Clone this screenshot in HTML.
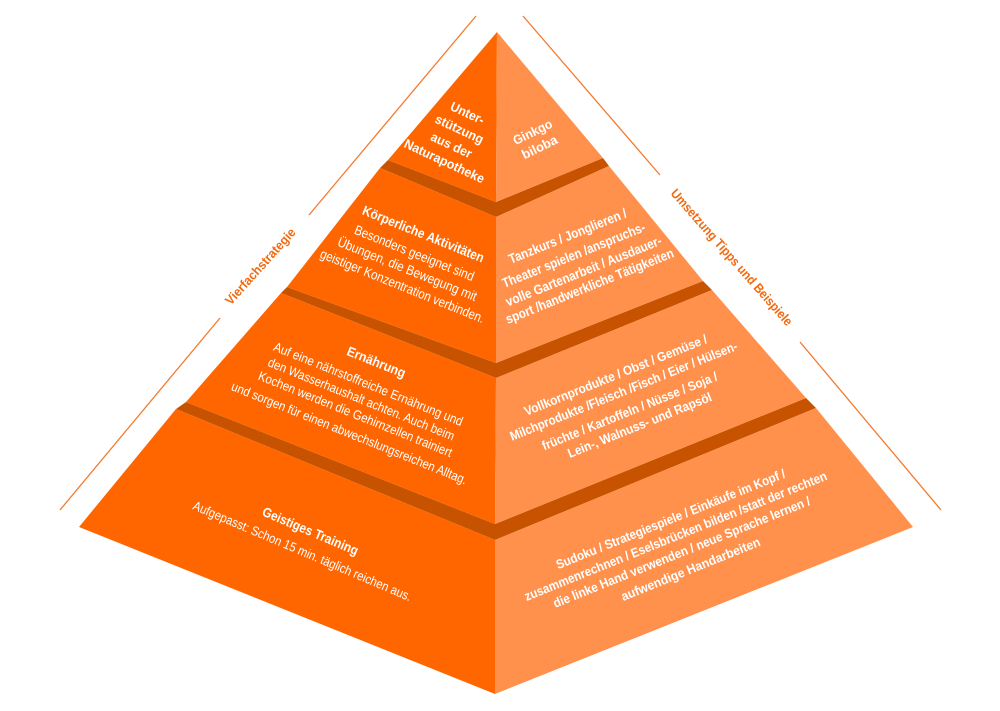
<!DOCTYPE html>
<html><head><meta charset="utf-8"><style>
html,body{margin:0;padding:0;background:#fff}
svg{display:block}
text{font-family:"Liberation Sans Narrow","Liberation Sans",sans-serif;fill:#fff;text-anchor:middle;dominant-baseline:middle}
.b{font-weight:bold}
</style></head><body>
<svg width="1000" height="711" viewBox="0 0 1000 711" xmlns="http://www.w3.org/2000/svg">
<g stroke="#f47a2a" stroke-width="1.3">
<line x1="476" y1="16" x2="309" y2="215"/>
<line x1="220" y1="318" x2="60" y2="510"/>
<line x1="523" y1="16" x2="660" y2="175"/>
<line x1="800" y1="342" x2="941" y2="510"/>
</g>
<!-- tier4 -->
<polygon points="186,402 495,524 806,398 816,408 495,540 176,409" fill="#c75300"/>
<polygon points="176,409 495,540 495,694 79,527" fill="#ff6600"/>
<polygon points="495,540 816,408 913,527 495,694" fill="#ff914d"/>
<!-- tier3 -->
<polygon points="287,287 496,363 703,281 712,290 496,378 281,293" fill="#c75300"/>
<polygon points="281,293 496,378 495,524 186,402" fill="#ff6600"/>
<polygon points="496,378 712,290 806,398 495,524" fill="#ff914d"/>
<!-- tier2 -->
<polygon points="388,160 496,202 603,158 609,166 496,217 380,168" fill="#c75300"/>
<polygon points="380,168 496,217 496,363 287,287" fill="#ff6600"/>
<polygon points="496,217 609,166 703,281 496,363" fill="#ff914d"/>
<!-- tier1 -->
<polygon points="497,32 496,202 388,160" fill="#ff6600"/>
<polygon points="497,32 603,158 496,202" fill="#ff914d"/>

<text class="b" font-size="13" style="fill:#f26a10" transform="translate(261,267) rotate(-48)" textLength="98" lengthAdjust="spacingAndGlyphs">Vierfachstrategie</text>
<text class="b" font-size="13" style="fill:#f26a10" transform="translate(731,258) rotate(48.7)" textLength="177" lengthAdjust="spacingAndGlyphs">Umsetzung Tipps und Beispiele</text>

<g class="b" font-size="13">
<text class="b" transform="translate(467,114) rotate(25)" textLength="36" lengthAdjust="spacingAndGlyphs">Unter-</text>
<text class="b" transform="translate(459,130) rotate(25)" textLength="52" lengthAdjust="spacingAndGlyphs">stützung</text>
<text class="b" transform="translate(451,146) rotate(25)" textLength="44" lengthAdjust="spacingAndGlyphs">aus der</text>
<text class="b" transform="translate(444,162) rotate(25)" textLength="87" lengthAdjust="spacingAndGlyphs">Naturapotheke</text>
<text class="b" transform="translate(533,133) rotate(-26)" textLength="42" lengthAdjust="spacingAndGlyphs">Ginkgo</text>
<text class="b" transform="translate(540,148) rotate(-26)" textLength="38" lengthAdjust="spacingAndGlyphs">biloba</text>
</g>

<text class="b" font-size="13.5" transform="translate(423,235) rotate(22)" textLength="130" lengthAdjust="spacingAndGlyphs">Körperliche Aktivitäten</text>
<text font-size="13.5" transform="translate(414,254) rotate(22)" textLength="128" lengthAdjust="spacingAndGlyphs">Besonders geeignet sind</text>
<text font-size="13.5" transform="translate(407,270) rotate(22)" textLength="149" lengthAdjust="spacingAndGlyphs">Übungen, die Bewegung mit</text>
<text font-size="13.5" transform="translate(402,287) rotate(22)" textLength="176" lengthAdjust="spacingAndGlyphs">geistiger Konzentration verbinden.</text>

<text class="b" font-size="13.5" transform="translate(568,237) rotate(-22)" textLength="126" lengthAdjust="spacingAndGlyphs">Tanzkurs / Jonglieren /</text>
<text class="b" font-size="13.5" transform="translate(574,256) rotate(-22)" textLength="153" lengthAdjust="spacingAndGlyphs">Theater spielen /anspruchs-</text>
<text class="b" font-size="13.5" transform="translate(584,272) rotate(-22)" textLength="167" lengthAdjust="spacingAndGlyphs">volle Gartenarbeit / Ausdauer-</text>
<text class="b" font-size="13.5" transform="translate(590,287) rotate(-22)" textLength="180" lengthAdjust="spacingAndGlyphs">sport /handwerkliche Tätigkeiten</text>

<text class="b" font-size="13.5" transform="translate(376,363) rotate(22)" textLength="62" lengthAdjust="spacingAndGlyphs">Ernährung</text>
<text font-size="13" transform="translate(368,385) rotate(22)" textLength="203" lengthAdjust="spacingAndGlyphs">Auf eine nährstoffreiche Ernährung und</text>
<text font-size="13" transform="translate(361,400) rotate(22)" textLength="200" lengthAdjust="spacingAndGlyphs">den Wasserhaushalt achten. Auch beim</text>
<text font-size="13" transform="translate(355,415) rotate(22)" textLength="208" lengthAdjust="spacingAndGlyphs">Kochen werden die Gehirnzellen trainiert</text>
<text font-size="13" transform="translate(349,434) rotate(22)" textLength="253" lengthAdjust="spacingAndGlyphs">und sorgen für einen abwechslungsreichen Alltag.</text>

<text class="b" font-size="13" transform="translate(616,376) rotate(-22)" textLength="196" lengthAdjust="spacingAndGlyphs">Vollkornprodukte / Obst / Gemüse /</text>
<text class="b" font-size="13" transform="translate(624,392) rotate(-22)" textLength="244" lengthAdjust="spacingAndGlyphs">Milchprodukte /Fleisch /Fisch / Eier / Hülsen-</text>
<text class="b" font-size="13" transform="translate(630,412) rotate(-22)" textLength="188" lengthAdjust="spacingAndGlyphs">früchte / Kartoffeln / Nüsse / Soja /</text>
<text class="b" font-size="13" transform="translate(640,426) rotate(-22)" textLength="154" lengthAdjust="spacingAndGlyphs">Lein-, Walnuss- und Rapsöl</text>

<text class="b" font-size="13.5" transform="translate(310,532) rotate(23)" textLength="103" lengthAdjust="spacingAndGlyphs">Geistiges Training</text>
<text font-size="13" transform="translate(302,552) rotate(23)" textLength="236" lengthAdjust="spacingAndGlyphs">Aufgepasst: Schon 15 min. täglich reichen aus.</text>

<text class="b" font-size="13" transform="translate(671,520) rotate(-22)" textLength="246" lengthAdjust="spacingAndGlyphs">Sudoku / Strategiespiele / Einkäufe im Kopf /</text>
<text class="b" font-size="13" transform="translate(676,537) rotate(-22)" textLength="325" lengthAdjust="spacingAndGlyphs">zusammenrechnen / Eselsbrücken bilden /statt der rechten</text>
<text class="b" font-size="13" transform="translate(682,553) rotate(-22)" textLength="276" lengthAdjust="spacingAndGlyphs">die linke Hand verwenden / neue Sprache lernen /</text>
<text class="b" font-size="13" transform="translate(691,570) rotate(-22)" textLength="149" lengthAdjust="spacingAndGlyphs">aufwendige Handarbeiten</text>
</svg>
</body></html>
